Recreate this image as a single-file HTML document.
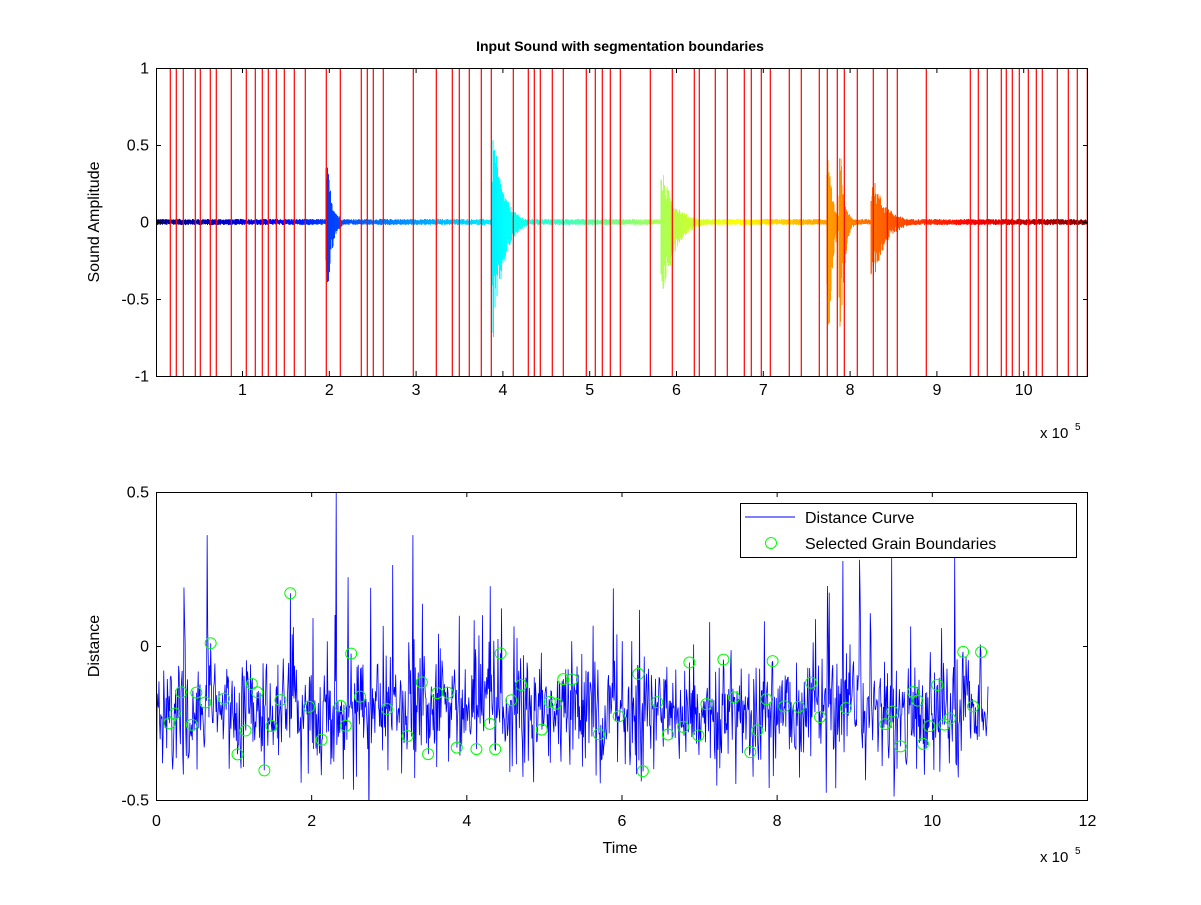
<!DOCTYPE html>
<html><head><meta charset="utf-8"><style>
html,body{margin:0;padding:0;background:#fff}
svg text{font-family:"Liberation Sans",Arial,sans-serif;font-size:14px;fill:#000}
</style></head><body>
<svg id="s" width="1201" height="900" xmlns="http://www.w3.org/2000/svg">
<rect width="1201" height="900" fill="#fff"/>
<defs>
<clipPath id="c1"><rect x="156" y="68" width="932" height="308"/></clipPath>
<clipPath id="c2"><rect x="156" y="492" width="932" height="308"/></clipPath>
</defs>
<g id="gtop" clip-path="url(#c1)"></g>
<g id="gbot" clip-path="url(#c2)"></g>
<g id="axes"></g>
<text x="620" y="51" text-anchor="middle" style="font-weight:bold;font-size:14px">Input Sound with segmentation boundaries</text>
<text transform="translate(99,222) rotate(-90)" text-anchor="middle" style="font-size:16px">Sound Amplitude</text>
<text transform="translate(99,646) rotate(-90)" text-anchor="middle" style="font-size:16px">Distance</text>
<text x="620" y="853" text-anchor="middle" style="font-size:16px">Time</text>
<text x="1040" y="438" style="font-size:15px">x 10</text><text x="1075" y="430" style="font-size:10px">5</text>
<text x="1040" y="862" style="font-size:15px">x 10</text><text x="1075" y="854" style="font-size:10px">5</text>
<rect x="740.5" y="503.5" width="336" height="54" fill="#fff" stroke="#000"/>
<line x1="745" y1="517" x2="795" y2="517" stroke="#00f"/>
<text x="805" y="523" style="font-size:16px">Distance Curve</text>
<circle cx="771" cy="543" r="5.5" fill="none" stroke="#0f0"/>
<text x="805" y="549" style="font-size:16px">Selected Grain Boundaries</text>
</svg>
<script>
(function(){
var NS="http://www.w3.org/2000/svg";
function el(p,t,a){var e=document.createElementNS(NS,t);for(var k in a)e.setAttribute(k,a[k]);p.appendChild(e);return e;}
var seed=12345;function rnd(){seed=(seed*1103515245+12345)%2147483648;return seed/2147483648;}
function gau(){return Math.sqrt(-2*Math.log(rnd()+1e-9))*Math.cos(6.2832*rnd());}
function jet(t){function c(v){return Math.max(0,Math.min(1,v));}
var r=c(1.5-Math.abs(4*t-3)),g=c(1.5-Math.abs(4*t-2)),b=c(1.5-Math.abs(4*t-1));
return "rgb("+Math.round(r*255)+","+Math.round(g*255)+","+Math.round(b*255)+")";}
var gTop=document.getElementById("gtop"),gBot=document.getElementById("gbot"),ax=document.getElementById("axes");
var bursts=[[328,0.36,0.47,5],[494,0.55,0.8,10],[663,0.32,0.5,13],[829,0.42,0.78,4],[841,0.42,0.74,4],[873,0.3,0.4,13]];
var cy=222,sc=154;
var prevcol=null,path="";
function flush(){if(path){el(gTop,"path",{d:path,stroke:prevcol,"stroke-width":"1",fill:"none"});path="";}}
for(var x=156;x<1088;x+=0.5){
 var up=0.02,dn=0.02;
 for(var i=0;i<bursts.length;i++){var b=bursts[i];var dx=x-b[0];if(dx>=-2){var e=Math.exp(-Math.max(0,dx)/b[3]);up=Math.max(up,b[1]*e);dn=Math.max(dn,b[2]*e);}}
 var u=up*(0.4+0.6*rnd()),v=dn*(0.4+0.6*rnd());
 var col=jet((x-156)/932);
 if(col!==prevcol){flush();prevcol=col;}
 path+="M"+x+" "+(cy-u*sc).toFixed(1)+"V"+(cy+v*sc).toFixed(1);
}
flush();
var R=[170.3,176.3,183.3,195.3,200.3,210.3,216.3,231.3,246.3,255.3,262.3,268.3,276.3,284.3,294.3,305.3,326.3,340.3,361.3,367.3,373.3,383.3,413.3,436.3,452.3,459.3,469.3,481.3,491.3,513.3,528.3,534.3,540.3,552.3,563.3,586.3,595.3,602.3,610.3,620.3,650.3,672.3,694.3,699.3,715.3,727.3,744.3,751.3,761.3,770.3,789.3,801.3,819.3,827.3,837.3,844.3,857.3,873.3,887.3,897.3,926.3,970.3,978.3,987.3,1001.3,1006.3,1012.3,1019.3,1028.3,1036.3,1042.3,1057.3,1068.3,1077.3,1087.3];
R.forEach(function(x){el(gTop,"line",{x1:x,y1:68,x2:x,y2:376,stroke:"#f00","stroke-width":"1.2"});});
var N=1400,x0=156,x1=988,ys=[];
for(var i=0;i<N;i++){var v=-0.21+gau()*0.09;if(rnd()<0.04)v+=0.15+rnd()*0.25;if(rnd()<0.03)v-=0.12;ys.push(v);}
ys[Math.round((336-156)/832*N)]=0.5;ys[Math.round((207-156)/832*N)]=0.36;ys[Math.round((413-156)/832*N)]=0.36;ys[Math.round((859-156)/832*N)]=0.28;
var dp="";
for(var i=0;i<N;i++){var x=x0+(x1-x0)*i/(N-1),y=646-ys[i]*308;dp+=(i?"L":"M")+x.toFixed(2)+" "+y.toFixed(1);}
el(gBot,"path",{d:dp,stroke:"#00f","stroke-width":"0.8",fill:"none"});
R.slice(0,R.length-1).forEach(function(px){var xd=(px-155.2)/86.8;var bx=156+xd*77.67;var i=Math.round((bx-x0)/(x1-x0)*(N-1));i=Math.max(0,Math.min(N-1,i));
 var by=646-ys[i]*308;el(gBot,"circle",{cx:bx,cy:by,r:5.5,fill:"none",stroke:"#0f0"});});
function box(y0,y1){el(ax,"rect",{x:156.5,y:y0+0.5,width:931,height:y1-y0,fill:"none",stroke:"#000"});}
box(68,376);box(492,800);
function tx(x,y0,y1,lab,ly){el(ax,"line",{x1:x,y1:y1,x2:x,y2:y1-5,stroke:"#000"});el(ax,"line",{x1:x,y1:y0,x2:x,y2:y0+5,stroke:"#000"});
 var t=el(ax,"text",{x:x,y:ly,"text-anchor":"middle",style:"font-size:16px"});t.textContent=lab;}
function ty(y,lab){el(ax,"line",{x1:156,y1:y,x2:161,y2:y,stroke:"#000"});el(ax,"line",{x1:1088,y1:y,x2:1083,y2:y,stroke:"#000"});
 var t=el(ax,"text",{x:149,y:y+5,"text-anchor":"end",style:"font-size:16px"});t.textContent=lab;}
for(var k=1;k<=10;k++){tx(155.2+86.8*k+0.5,68,376,""+k,395);}
[["1",68.5],["0.5",145.5],["0",222.5],["-0.5",299.5],["-1",376.5]].forEach(function(a){ty(a[1],a[0]);});
for(var k=0;k<=12;k+=2){tx(156.5+k*77.58,492,800,""+k,826);}
[["0.5",492.5],["0",646.5],["-0.5",800.5]].forEach(function(a){ty(a[1],a[0]);});
})();
</script>
</body></html>
